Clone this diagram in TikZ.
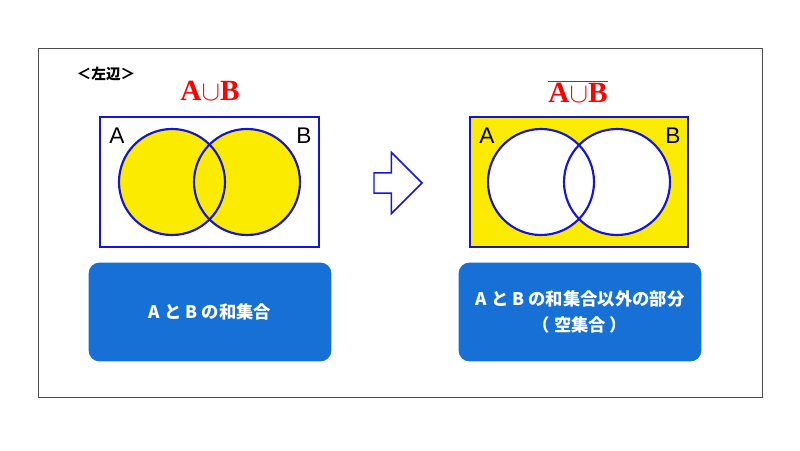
\documentclass[tikz,border=0pt]{standalone}
\usepackage{fontspec}
\newfontfamily\cjk{Noto Sans CJK JP}
\setmainfont{Liberation Serif}
\setsansfont{Liberation Sans}
\usetikzlibrary{shapes.arrows, positioning}
\definecolor{vennblue}{RGB}{20,20,220}
\definecolor{boxblue}{RGB}{22,112,214}
\definecolor{markyellow}{RGB}{250,235,0}
\tikzstyle{frame} = [draw=vennblue, line width=1.6pt]
\tikzstyle{ring} = [draw=vennblue, line width=1.6pt]
\tikzstyle{infobox} = [rectangle, rounded corners=8pt, fill=boxblue, text=white, font=\cjk\bfseries\fontsize{13}{20}\selectfont, align=center]
\tikzstyle{setlabel} = [font=\sffamily\fontsize{17}{17}\selectfont]
\tikzstyle{title} = [text=red, font=\bfseries\fontsize{22}{22}\selectfont]

\begin{document}
\begin{tikzpicture}[x=0.75pt, y=-0.75pt]
\useasboundingbox (0,0) rectangle (800,450);
\fill[white] (0,0) rectangle (800,450);
\draw[black!70, line width=0.7pt] (38,48) rectangle (762,397);

\node (side) [font=\cjk\bfseries\fontsize{11}{11}\selectfont] at (106,74) {＜左辺＞};

% left: A union B
\node (tleft) [title] at (210,91) {A$\cup$B};
\fill[markyellow] (172,182) circle (54) (247,182) circle (54);
\draw[ring] (172,182) circle (53) (247,182) circle (53);
\draw[frame] (100,117) rectangle (319,247);
\node (la) [setlabel] at (117,136) {A};
\node (lb) [setlabel] at (304,136) {B};

% arrow
\node (go) [single arrow, draw=vennblue, line width=1.1pt, fill=white, minimum width=46pt, single arrow head extend=8pt, minimum height=36pt] at (393,183) {};

% right: complement
\node (tright) [title] at (578,92) {$\overline{\mbox{A$\cup$B}}$};
\fill[markyellow] (470,117) rectangle (688,247);
\fill[white] (541,182) circle (53) (617,182) circle (53);
\draw[ring] (541,182) circle (53) (617,182) circle (53);
\draw[frame] (470,117) rectangle (688,247);
\node (ra) [setlabel] at (487,136) {A};
\node (rb) [setlabel] at (673,136) {B};

% boxes
\node (sum) [infobox, minimum width=182pt, minimum height=74pt] at (210,312) {A と B の和集合};
\node (rest) [infobox, minimum width=182pt, minimum height=74pt] at (580,312) {A と B の和集合以外の部分\\（ 空集合 ）};
\end{tikzpicture}
\end{document}
